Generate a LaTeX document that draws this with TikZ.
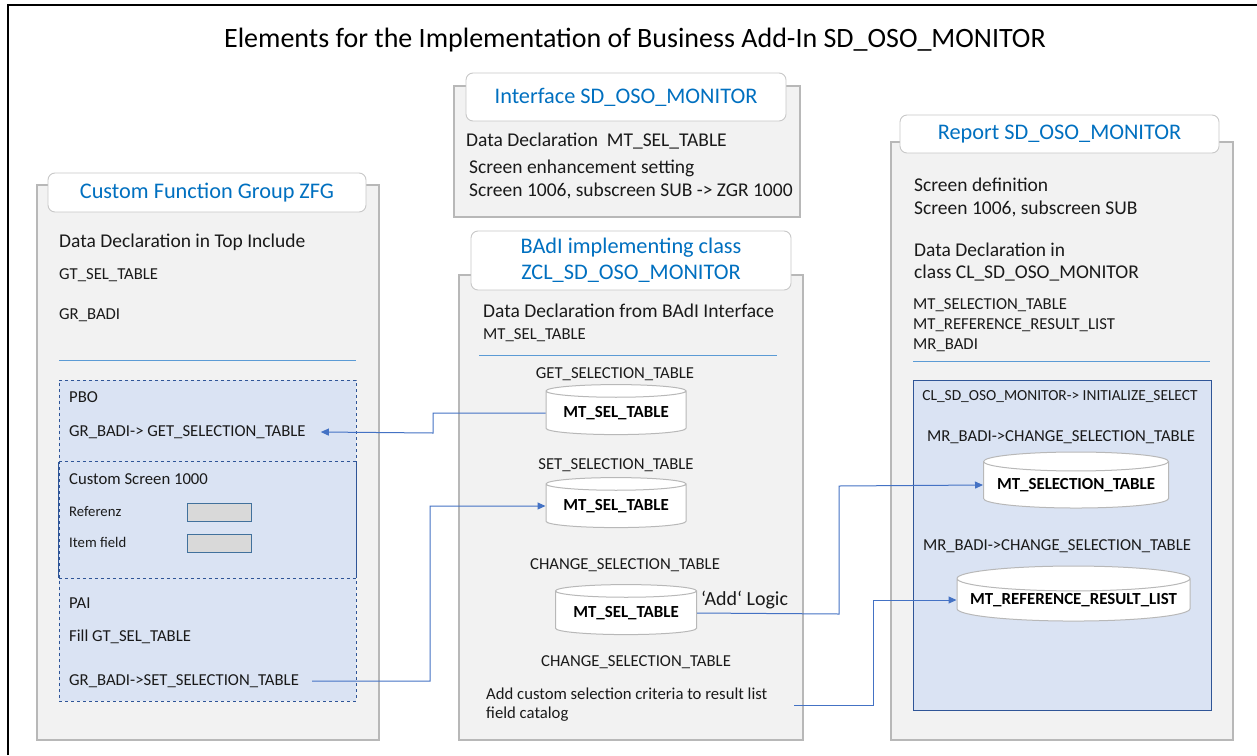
\documentclass[tikz,border=0pt]{standalone}
\usepackage{fontspec}
\setmainfont{Carlito}
\usetikzlibrary{shapes.geometric,arrows.meta}
\definecolor{panelfill}{HTML}{F2F2F2}
\definecolor{panelborder}{HTML}{B8B8B8}
\definecolor{tabborder}{HTML}{C8C8C8}
\definecolor{tabblue}{HTML}{0070C0}
\definecolor{lightblue}{HTML}{DAE3F3}
\definecolor{darkblue}{HTML}{2F5597}
\definecolor{connblue}{HTML}{4472C4}
\definecolor{sepblue}{HTML}{5B9BD5}
\definecolor{fieldgray}{HTML}{D9D9D9}
\definecolor{fieldborder}{HTML}{41719C}
\definecolor{txtcol}{HTML}{1A1A1A}
\tikzset{
  panel/.style={draw=panelborder, line width=1.6pt, fill=panelfill, inner sep=0},
  tab/.style={draw=tabborder, line width=0.9pt, fill=white, rounded corners=7pt, text=tabblue,
    font=\fontsize{22.3}{26}\selectfont, align=center, inner sep=0},
  txt/.style={anchor=west, inner sep=0, text=txtcol, font=\fontsize{19.5}{22}\selectfont},
  stxt/.style={anchor=west, inner sep=0, text=txtcol, font=\fontsize{16.7}{19}\selectfont},
  xstxt/.style={anchor=west, inner sep=0, text=txtcol, font=\fontsize{14.7}{17}\selectfont},
  ctxt/.style={inner sep=0, text=txtcol, font=\fontsize{16.7}{19}\selectfont},
  sep/.style={draw=sepblue, line width=1pt},
  cyl/.style={cylinder, shape border rotate=90, aspect=0.12, draw=panelborder, line width=1pt,
    fill=white, font=\bfseries\fontsize{16.9}{19}\selectfont, inner sep=0},
  field/.style={draw=fieldborder, line width=0.9pt, fill=fieldgray, minimum width=64, minimum height=18, inner sep=0},
  conn/.style={draw=connblue, line width=1pt},
  arr/.style={-{Triangle[length=8pt,width=7pt]}},
}
\begin{document}
\begin{tikzpicture}[x=1pt,y=-1pt]
\useasboundingbox (0,0) rectangle (1257,755);
\fill[white] (0,0) rectangle (1257,755);
% outer frame
\draw[black, line width=2.5pt] (8,755) -- (8,5) -- (1257,5);
% title
\node[inner sep=0, font=\fontsize{28}{32}\selectfont] (title) at (635,40) {Elements for the Implementation of Business Add-In SD\_OSO\_MONITOR};

% ---------------- left panel
\node[panel, minimum width=342, minimum height=555] (lpanel) at (208,462.5) {};
\node[tab, minimum width=318, minimum height=39] (ltab) at (207,192.5) {Custom Function Group ZFG};
\node[txt] (l1) at (59,242) {Data Declaration in Top Include};
\node[stxt] (l2) at (59,275) {GT\_SEL\_TABLE};
\node[stxt] (l3) at (59,315) {GR\_BADI};
\draw[sep] (59,360) -- (356,360);
\node[draw=darkblue, dashed, line width=0.8pt, fill=lightblue, minimum width=297, minimum height=321, inner sep=0] (dyn) at (207.5,540.5) {};
\node[minimum width=297, minimum height=116, inner sep=0] (scr) at (207.5,520) {};
\draw[darkblue, line width=0.8pt] (scr.north west) -- (scr.south west) (scr.north east) -- (scr.south east);
\draw[darkblue, dashed, line width=0.8pt] (scr.north west) -- (scr.north east) (scr.south west) -- (scr.south east);
\node[stxt] (pbo) at (69,397) {PBO};
\node[stxt] (getcall) at (69,432) {GR\_BADI-> GET\_SELECTION\_TABLE};
\node[stxt] (cs) at (69,479) {Custom Screen 1000};
\node[xstxt] (ref) at (69,512) {Referenz};
\node[field] (reff) at (219,512) {};
\node[xstxt] (item) at (69,542) {Item field};
\node[field] (itemf) at (219,543) {};
\node[stxt] (pai) at (69,603) {PAI};
\node[stxt] (fill) at (69,637) {Fill GT\_SEL\_TABLE};
\node[stxt] (setcall) at (69,681) {GR\_BADI->SET\_SELECTION\_TABLE};

% ---------------- interface panel
\node[panel, minimum width=346, minimum height=131] (ipanel) at (627,151.5) {};
\node[tab, minimum width=320, minimum height=48] (itab) at (626,97) {Interface SD\_OSO\_MONITOR};
\node[txt] (i1) at (466,141) {Data Declaration\ \ MT\_SEL\_TABLE};
\node[txt] (i2) at (469,168) {Screen enhancement setting};
\node[txt] (i3) at (469,191) {Screen 1006, subscreen SUB -> ZGR 1000};

% ---------------- BAdI class panel
\node[panel, minimum width=344, minimum height=465] (bpanel) at (631,507.5) {};
\node[tab, minimum width=320, minimum height=59] (btab) at (631,260.5) {BAdI implementing class\\ZCL\_SD\_OSO\_MONITOR};
\node[txt] (b1) at (483,311) {Data Declaration from BAdI Interface};
\node[stxt] (b2) at (483,335) {MT\_SEL\_TABLE};
\draw[sep] (479,355) -- (777,355);
\node[ctxt] (g1) at (615,374) {GET\_SELECTION\_TABLE};
\node[cyl, minimum width=140, minimum height=50] (cyl1) at (616,413) {MT\_SEL\_TABLE};
\node[ctxt] (s1) at (616,465) {SET\_SELECTION\_TABLE};
\node[cyl, minimum width=140, minimum height=50] (cyl2) at (616,506) {MT\_SEL\_TABLE};
\node[ctxt] (c1) at (625,565) {CHANGE\_SELECTION\_TABLE};
\node[cyl, minimum width=141, minimum height=50] (cyl3) at (626,613) {MT\_SEL\_TABLE};
\node[txt, font=\fontsize{20}{23}\selectfont] (addl) at (701,600) {‘Add‘ Logic};
\node[ctxt] (c2) at (636,662) {CHANGE\_SELECTION\_TABLE};
\node[stxt] (a1) at (486,694) {Add custom selection criteria to result list};
\node[stxt] (a2) at (486,714) {field catalog};
\coordinate (acend) at (794,705);

% ---------------- report panel
\node[panel, minimum width=342, minimum height=598] (rpanel) at (1062,441) {};
\node[tab, minimum width=319, minimum height=38] (rtab) at (1059.5,134) {Report SD\_OSO\_MONITOR};
\node[txt] (r1) at (914,185) {Screen definition};
\node[txt] (r2) at (914,209) {Screen 1006, subscreen SUB};
\node[txt] (r3) at (914,250) {Data Declaration in};
\node[txt] (r4) at (914,273) {class CL\_SD\_OSO\_MONITOR};
\node[stxt] (r5) at (913,305) {MT\_SELECTION\_TABLE};
\node[stxt] (r6) at (913,325) {MT\_REFERENCE\_RESULT\_LIST};
\node[stxt] (r7) at (913,345) {MR\_BADI};
\draw[sep] (913,361) -- (1210,361);
\node[draw=darkblue, line width=1pt, fill=lightblue, minimum width=298, minimum height=330, inner sep=0] (sel) at (1062,545) {};
\node[ctxt, font=\fontsize{15.4}{18}\selectfont] (rs1) at (1060,397) {CL\_SD\_OSO\_MONITOR-> INITIALIZE\_SELECT};
\node[ctxt] (rs2) at (1061,437) {MR\_BADI->CHANGE\_SELECTION\_TABLE};
\node[cyl, minimum width=185, minimum height=56] (cyl4) at (1076,485) {MT\_SELECTION\_TABLE};
\node[ctxt] (rs3) at (1057,546) {MR\_BADI->CHANGE\_SELECTION\_TABLE};
\node[cyl, minimum width=233, minimum height=55] (cyl5) at (1073.5,600) {MT\_REFERENCE\_RESULT\_LIST};

% ---------------- connectors
\draw[conn, arr] (cyl1.west) -- (433,413) -- (433,433) -- ([xshift=15pt]getcall.east);
\draw[conn, arr] ([xshift=13pt]setcall.east) -- (430,681) -- (430,506) -- (cyl2.west);
\draw[conn, arr] (cyl3.east) -- (839,614) -- (839,486) -- (cyl4.west);
\draw[conn, arr] (acend) -- (873,705) -- (873,600) -- (cyl5.west);
\end{tikzpicture}
\end{document}
